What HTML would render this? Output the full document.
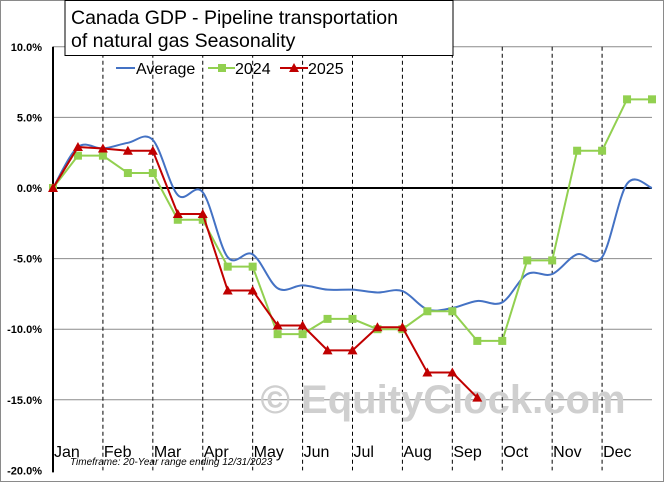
<!DOCTYPE html>
<html><head><meta charset="utf-8"><style>
html,body{margin:0;padding:0;background:#fff}
svg{display:block;font-family:"Liberation Sans",sans-serif}
</style></head><body>
<svg width="664" height="482" viewBox="0 0 664 482">
<rect x="0.5" y="0.5" width="663" height="481" fill="#fff" stroke="#8a8a8a"/>
<g id="grid"></g>
<text x="443" y="413" font-size="40" font-weight="bold" fill="#cfcfcf" text-anchor="middle">© EquityClock.com</text>
<g id="series"></g>
<rect x="65" y="0.5" width="388" height="55" fill="#fff" stroke="#000" stroke-width="1"/>
<text x="71" y="24" font-size="19.5" fill="#000">Canada  GDP - Pipeline transportation</text>
<text x="71" y="47" font-size="19.5" fill="#000">of natural  gas Seasonality</text>
<g font-size="16">
<g><line x1="116" y1="68" x2="135" y2="68" stroke="#4472c4" stroke-width="2"/><text x="136" y="74">Average</text></g>
<g><line x1="208" y1="68" x2="235" y2="68" stroke="#92d050" stroke-width="2"/><rect x="218" y="64" width="8" height="8" fill="#92d050"/><text x="235" y="74">2024</text></g>
<g><line x1="280" y1="68" x2="308" y2="68" stroke="#c00000" stroke-width="2"/><polygon points="294,63 299,72 289,72" fill="#c00000"/><text x="308" y="74">2025</text></g>
</g>
<text x="70" y="465" font-size="10" font-style="italic" fill="#000">Timeframe: 20-Year range ending 12/31/2023</text>
</svg>
<script>
const months=["Jan","Feb","Mar","Apr","May","Jun","Jul","Aug","Sep","Oct","Nov","Dec"];
const yTicks=[10,5,0,-5,-10,-15,-20];
const avgValues=[0,2.9,2.8,3.2,3.4,-0.5,-0.3,-4.9,-4.7,-7.1,-6.9,-7.2,-7.2,-7.4,-7.3,-8.6,-8.5,-8.0,-8.1,-6.1,-6.1,-4.7,-4.9,0.3,0.0];
const values2024=[0,2.29,2.29,1.06,1.06,-2.25,-2.25,-5.57,-5.57,-10.35,-10.35,-9.27,-9.27,-10.0,-10.0,-8.73,-8.73,-10.83,-10.83,-5.13,-5.13,2.64,2.64,6.28,6.28];
const values2025=[0,2.9,2.8,2.64,2.64,-1.84,-1.84,-7.26,-7.26,-9.74,-9.74,-11.5,-11.5,-9.86,-9.86,-13.07,-13.07,-14.85];
const NS="http://www.w3.org/2000/svg";
const X0=53,X1=652,Y0=188,PX=14.12;
const xs=i=>X0+i*(X1-X0)/24;
const ys=v=>Y0-v*PX;
function mk(t,a,p){const e=document.createElementNS(NS,t);for(const k in a)e.setAttribute(k,a[k]);p.appendChild(e);return e;}
const grid=document.getElementById('grid'),ser=document.getElementById('series');
yTicks.forEach(v=>{
 if(v!==0&&v!==-20){const l=mk('line',{x1:X0,x2:X1,y1:ys(v),y2:ys(v),stroke:'#8c8c8c','stroke-width':1},grid);
 
 }
 const t=mk('text',{x:X0-11,y:ys(v)+4,'font-size':11,'font-weight':'bold','text-anchor':'end'},grid);
 t.textContent=v.toFixed(1)+'%';
 
 
});
months.forEach((m,i)=>{
 if(i>0){const l=mk('line',{x1:xs(2*i),x2:xs(2*i),y1:ys(10),y2:ys(-20),stroke:'#000','stroke-width':1,'stroke-dasharray':'4,3'},grid);
 
 }
 const t=mk('text',{x:xs(2*i)+1,y:457,'font-size':16},grid);
 t.textContent=m;
 
 
});
const ya=mk('line',{x1:X0,x2:X0,y1:ys(10),y2:ys(-20)+2,stroke:'#000','stroke-width':2},grid);


const za=mk('line',{x1:X0,x2:X1,y1:ys(0),y2:ys(0),stroke:'#000','stroke-width':2},grid);


const P=avgValues.map((v,i)=>[xs(i),ys(v)]);
let d='M'+P[0][0]+','+P[0][1];
for(let i=0;i<P.length-1;i++){const p0=P[i-1]||P[i],p1=P[i],p2=P[i+1],p3=P[i+2]||P[i+1];
 d+=` C${p1[0]+(p2[0]-p0[0])/6},${p1[1]+(p2[1]-p0[1])/6} ${p2[0]-(p3[0]-p1[0])/6},${p2[1]-(p3[1]-p1[1])/6} ${p2[0]},${p2[1]}`;}
const avg=mk('path',{d:d,fill:'none',stroke:'#4472c4','stroke-width':2},ser);


function line(vals,col,name){const l=mk('polyline',{points:vals.map((v,i)=>xs(i)+','+ys(v)).join(' '),fill:'none',stroke:col,'stroke-width':2},ser);
 
 }
line(values2024,'#92d050','line-2024');
values2024.forEach((v,i)=>{const r=mk('rect',{x:xs(i)-4,y:ys(v)-4,width:8,height:8,fill:'#92d050'},ser);
 
 });
line(values2025,'#c00000','line-2025');
values2025.forEach((v,i)=>{const x=xs(i),y=ys(v);const p=mk('polygon',{points:`${x},${y-5} ${x+5},${y+4} ${x-5},${y+4}`,fill:'#c00000'},ser);
 
 });
</script>
</body></html>
